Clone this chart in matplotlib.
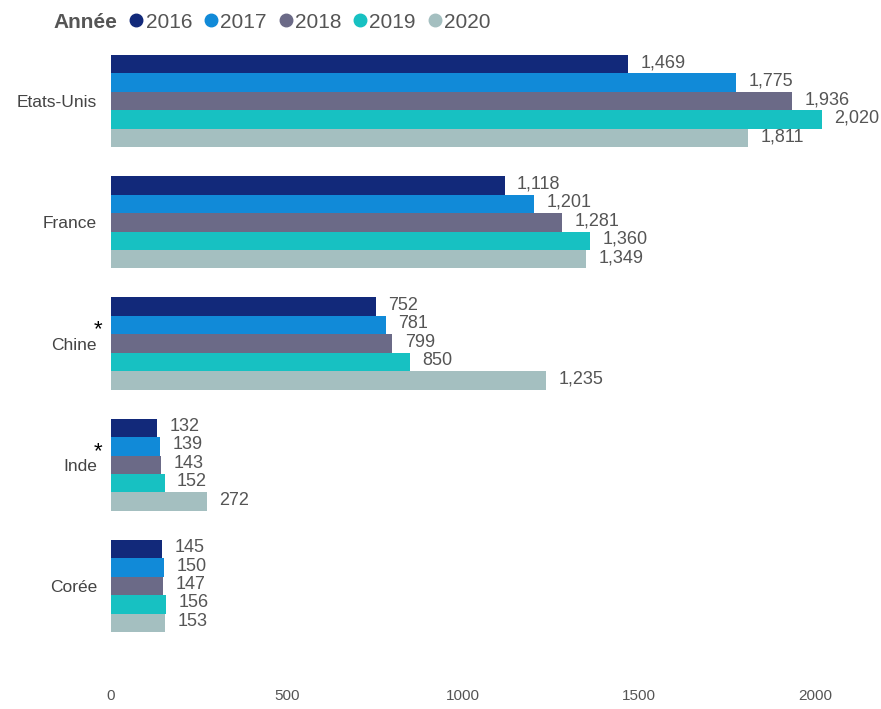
import matplotlib.pyplot as plt
from matplotlib.lines import Line2D
import numpy as np

countries = ["Etats-Unis", "France", "Chine", "Inde", "Corée"]
years = ["2016", "2017", "2018", "2019", "2020"]
values = {
    "2016": [1469, 1118, 752, 132, 145],
    "2017": [1775, 1201, 781, 139, 150],
    "2018": [1936, 1281, 799, 143, 147],
    "2019": [2020, 1360, 850, 152, 156],
    "2020": [1811, 1349, 1235, 272, 153],
}
starred = ["Chine", "Inde"]
colors = ["#12297a", "#118ad8", "#6b6a87", "#17c1c2", "#a4bfc0"]
xticks = [0, 500, 1000, 1500, 2000]

plt.rcParams["font.family"] = ["Liberation Sans", "DejaVu Sans"]

fig = plt.figure(figsize=(8.81, 7.09), dpi=100)
ax = fig.add_axes([0.126, 0.071, 0.839, 0.889])

bar_h = 0.152
y = np.arange(len(countries))
for i, (yr, col) in enumerate(zip(years, colors)):
    pos = y - 2 * bar_h + i * bar_h
    bars = ax.barh(pos, values[yr], height=bar_h, color=col)
    for b, v in zip(bars, values[yr]):
        ax.annotate(f"{v:,}", (b.get_width(), b.get_y() + b.get_height() / 2),
                    xytext=(9, 1), textcoords="offset points",
                    va="center", ha="left", fontsize=13, color="#555555")

ax.set_xlim(0, 2100)
ax.set_ylim(len(countries) - 0.4, -0.6)
ax.set_yticks(y)
ax.set_yticklabels(countries, fontsize=12.5, color="#444444")
ax.set_xticks(xticks)
ax.set_xticklabels([str(t) for t in xticks], fontsize=11, color="#555555")
ax.tick_params(axis="y", length=0, pad=10)
ax.tick_params(axis="x", length=0, pad=22)
for s in ax.spines.values():
    s.set_visible(False)

# little stars next to some countries
for c in starred:
    k = countries.index(c)
    ax.annotate("*", (0, k - 0.11), xytext=(-9, 0), textcoords="offset points",
                ha="center", va="center", fontsize=16, color="black",
                annotation_clip=False)

# legend
fig.text(53 / 881, 1 - 22 / 709, "Année", fontsize=15, fontweight="bold",
         color="#555555", va="center", ha="left")
handles = [Line2D([], [], marker="o", linestyle="", markersize=9, color=c) for c in colors]
fig.legend(handles, years, loc="center left", bbox_to_anchor=(130 / 881, 1 - 22 / 709),
           ncol=5, frameon=False, handlelength=0.6, handletextpad=0.15,
           columnspacing=0.6, borderpad=0, borderaxespad=0,
           prop={"size": 15}, labelcolor="#555555")

fig.savefig("out.png", dpi=100)
